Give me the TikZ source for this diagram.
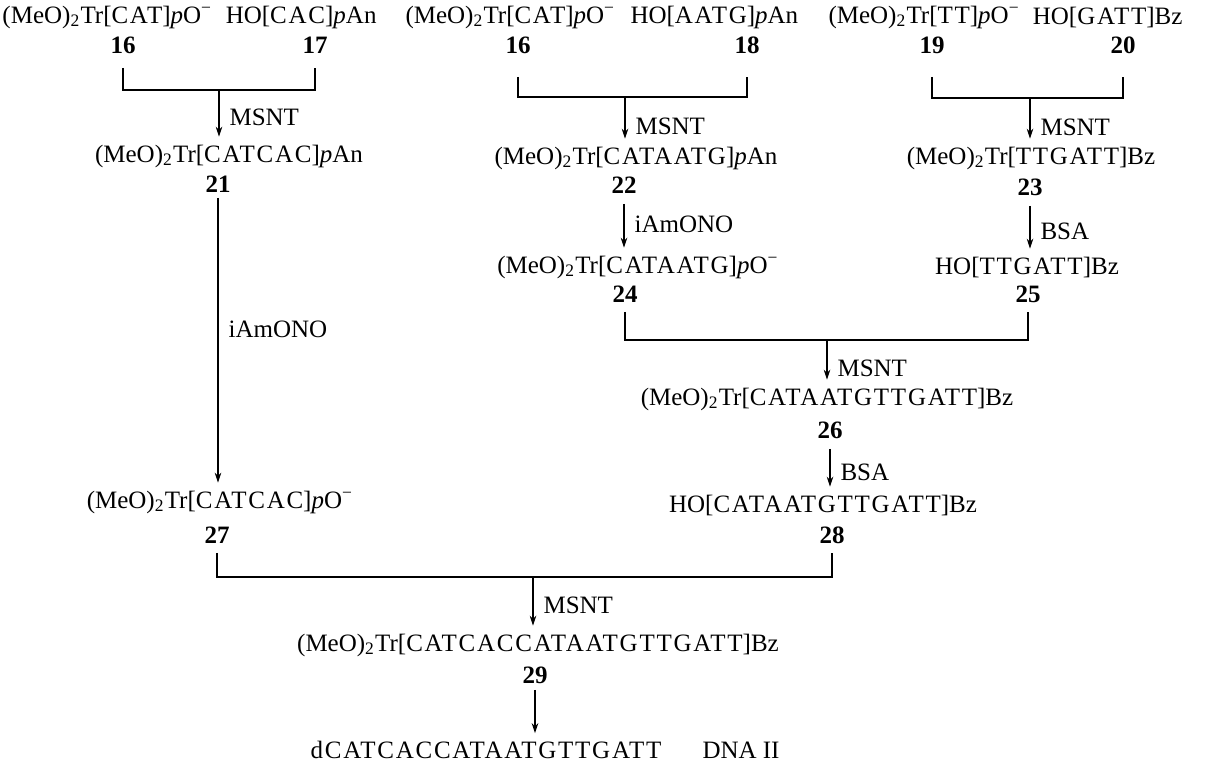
\documentclass[tikz,border=0pt]{standalone}
\usepackage{fontspec}
\setmainfont{Liberation Serif}
\usetikzlibrary{arrows.meta,positioning}
\newcommand{\MeTr}{(MeO)\textsubscript{2}Tr}
\newcommand{\pO}{\textit{p}O\textsuperscript{−}}
\newcommand{\pAn}{\textit{p}An}
\newcommand{\sq}[1]{{\addfontfeatures{LetterSpace=7}#1}}

\begin{document}
\begin{tikzpicture}[x=0.4pt,y=-0.4pt,>={Stealth[length=4pt,width=2.6pt]},
  every node/.style={inner sep=0pt,font=\fontsize{10}{12}\selectfont},
  num/.style={font=\fontsize{10}{12}\selectfont\bfseries},
  lbl/.style={anchor=west,xshift=4pt},
  rxn/.style={->,line width=0.45pt,shorten >=3pt},
  bracket/.style={line width=0.8pt}]
  \useasboundingbox (0,0) rectangle (1208,762);

  % starting blocks
  \node[anchor=west] (t16a) at (2,17) {\MeTr[\sq{CAT}]\pO};
  \node[right=5pt of t16a] (t17) {HO[\sq{CAC}]\pAn};
  \node[anchor=west] (t16b) at (405,17) {\MeTr[\sq{CAT}]\pO};
  \node[anchor=west] (t18) at (630,17) {HO[\sq{AATG}]\pAn};
  \node[anchor=west] (t19) at (828,17) {\MeTr[\sq{TT}]\pO};
  \node[anchor=east] (t20) at (1183,17) {HO[\sq{GATT}]Bz};

  \node[num] (n16a) at (123,45) {16};
  \node[num] (n17) at (315,45) {17};
  \node[num] (n16b) at (518,45) {16};
  \node[num] (n18) at (747,45) {18};
  \node[num] (n19) at (932,45) {19};
  \node[num] (n20) at (1123,45) {20};

  \coordinate (j1) at (219,90);
  \coordinate (j2) at (625,97);
  \coordinate (j3) at (1030,98);

  % first couplings
  \node (t21) at (229,156) {\MeTr[\sq{CATCAC}]\pAn};
  \node (t22) at (636,158) {\MeTr[\sq{CATAATG}]\pAn};
  \node (t23) at (1031,158) {\MeTr[\sq{TTGATT}]Bz};
  \node[num] (n21) at (218,184) {21};
  \node[num] (n22) at (624,185) {22};
  \node[num] (n23) at (1030,187) {23};

  \draw[bracket] ([yshift=-5.6pt]n16a.south) |- (j1) -| ([yshift=-5.6pt]n17.south);
  \draw[bracket] ([yshift=-9.2pt]n16b.south) |- (j2) -| ([yshift=-9.2pt]n18.south);
  \draw[bracket] ([yshift=-9.2pt]n19.south) |- (j3) -| ([yshift=-9.2pt]n20.south);
  \draw[rxn] (j1) -- (j1 |- t21.north) node[lbl,pos=0.5] (m1) {MSNT};
  \draw[rxn] (j2) -- (j2 |- t22.north) node[lbl,pos=0.6] (m2) {MSNT};
  \draw[rxn] (j3) -- (j3 |- t23.north) node[lbl,pos=0.6] (m3) {MSNT};

  % deblocking
  \node (t24) at (638,267) {\MeTr[\sq{CATAATG}]\pO};
  \node (t25) at (1027,267) {HO[\sq{TTGATT}]Bz};
  \node[num] (n24) at (625,294) {24};
  \node[num] (n25) at (1028,294) {25};
  \draw[rxn,shorten <=4pt] (n22.south) -- (n22 |- t24.north) node[lbl,pos=0.5] (a1) {iAmONO};
  \draw[rxn,shorten <=4pt] (n23.south) -- (n23 |- t25.north) node[lbl,pos=0.58] (b1) {BSA};

  % second coupling
  \coordinate (j4) at (827,340);
  \node (t26) at (827,399) {\MeTr[\sq{CATAATGTTGATT}]Bz};
  \node[num] (n26) at (830,430) {26};
  \draw[bracket] ([yshift=-3.6pt]n24.south) |- (j4) -| ([yshift=-3.6pt]n25.south);
  \draw[rxn] (j4) -- (j4 |- t26.north) node[lbl,pos=0.6] (m4) {MSNT};

  \node (t28) at (823,505) {HO[\sq{CATAATGTTGATT}]Bz};
  \node[num] (n28) at (832,535) {28};
  \draw[rxn,shorten <=4pt] (n26.south) -- (n26 |- t28.north) node[lbl,pos=0.6] (b2) {BSA};

  \node (t27) at (220,502) {\MeTr[\sq{CATCAC}]\pO};
  \node[num] (n27) at (217,535) {27};
  \draw[rxn,shorten <=2pt] (n21.south) -- (n21 |- t27.north) node[lbl,pos=0.46] (a2) {iAmONO};

  % final coupling
  \coordinate (j5) at (533,577);
  \node (t29) at (538,645) {\MeTr[\sq{CATCACCATAATGTTGATT}]Bz};
  \node[num] (n29) at (535,675) {29};
  \draw[bracket] ([yshift=-3.6pt]n27.south) |- (j5) -| ([yshift=-3.6pt]n28.south);
  \draw[rxn] (j5) -- (j5 |- t29.north) node[lbl,pos=0.5] (m5) {MSNT};

  \node (fin) at (486,750) {\sq{dCATCACCATAATGTTGATT}};
  \node[anchor=west] (dna) at (702,750) {DNA II};
  \draw[rxn,shorten <=2.4pt] (n29.south) -- (n29 |- fin.north);
\end{tikzpicture}
\end{document}
